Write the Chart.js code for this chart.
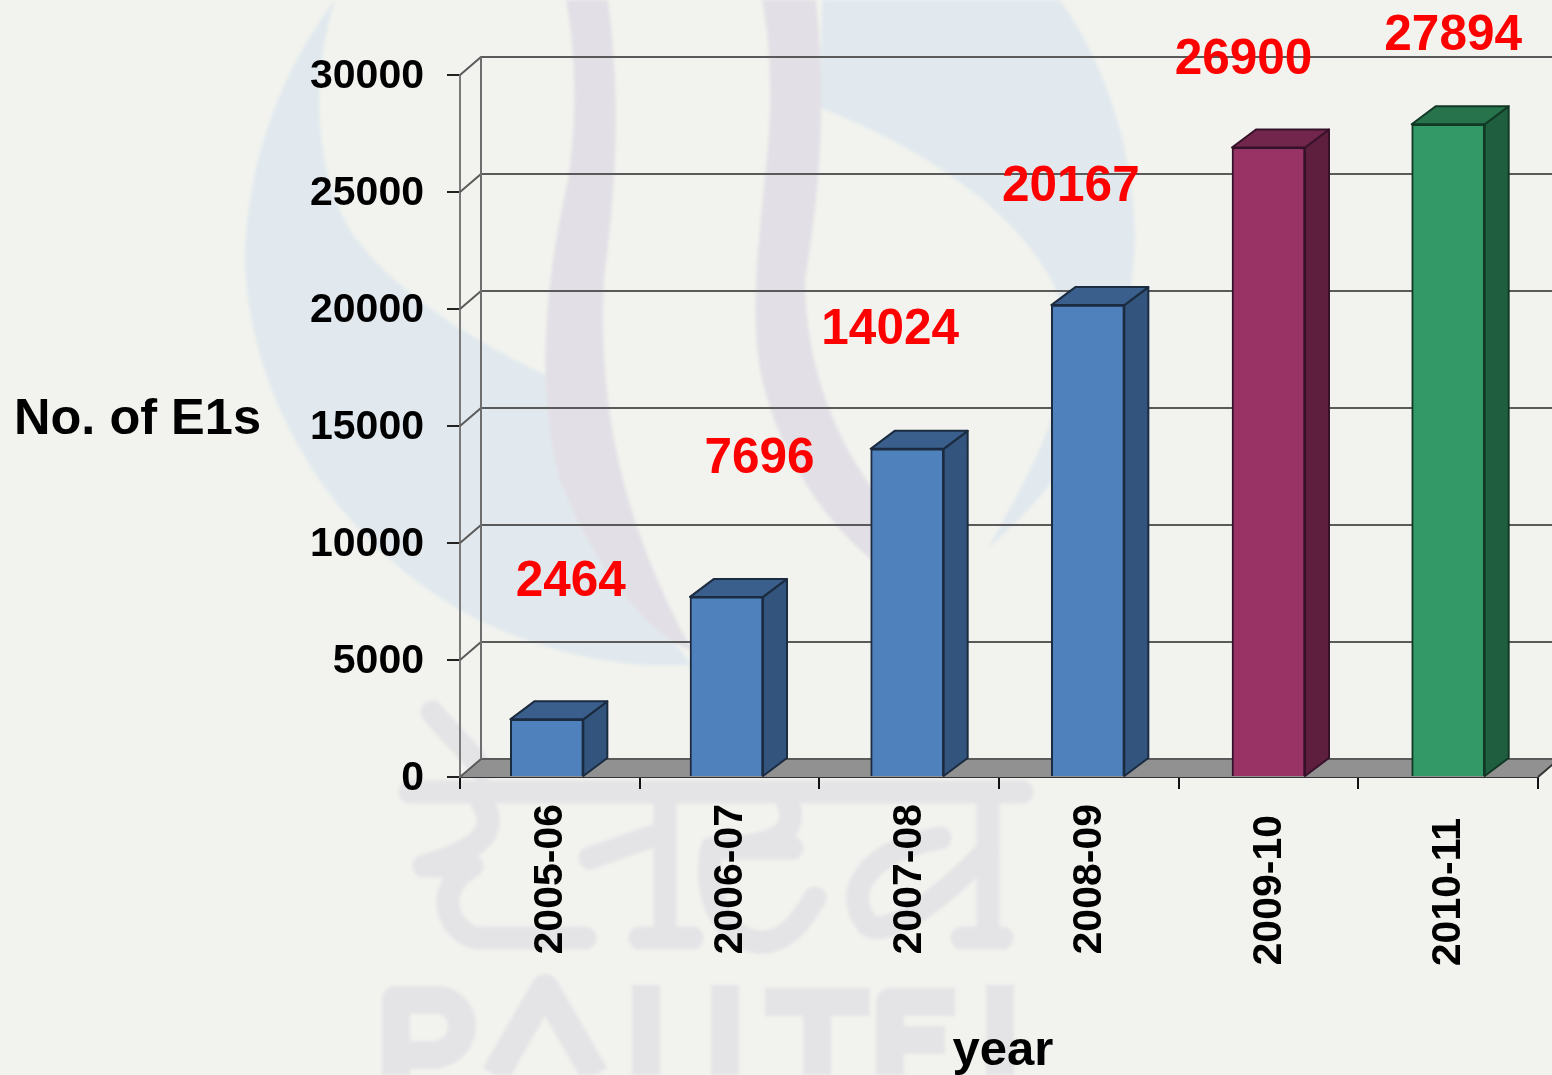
<!DOCTYPE html>
<html>
<head>
<meta charset="utf-8">
<script src="https://cdn.jsdelivr.net/npm/chart.js@4"></script>
<style>
html,body{margin:0;padding:0;background:#F2F3EE;overflow:hidden}
#wm{position:absolute;left:0;top:0;filter:blur(1.5px)}
#c{position:absolute;left:0;top:0}
</style>
</head>
<body>
<svg id="wm" width="1552" height="1075" viewBox="0 0 1552 1075" fill="none">
  <path fill="#E1E9EE" d="M335,0 C280,70 245,170 245,260 C248,400 340,560 500,630 C580,662 640,668 692,665 C640,600 570,480 548,376 C480,345 390,290 350,230 C315,170 310,80 335,0 Z"/>
  <path fill="#E1E9EE" d="M822,0 L1060,0 C1110,70 1135,160 1135,240 C1130,380 1070,480 988,548 C1030,470 1078,400 1060,300 C1030,220 930,150 820,108 Z"/>
  <path fill="#E2E0E6" d="M566,0 L608,0 C620,90 618,170 604,280 C598,400 620,520 692,650 C650,640 590,560 560,480 C535,390 545,280 568,180 C578,110 575,50 566,0 Z"/>
  <path fill="#E2E0E6" d="M762,0 L816,0 C826,90 822,180 805,280 C805,380 850,500 960,572 L920,590 C850,560 780,470 760,370 C745,280 772,170 770,90 C770,50 766,20 762,0 Z"/>
  <g stroke="#E4E4E7" stroke-width="23" stroke-linecap="round" stroke-linejoin="round">
    <path d="M432,712 C450,735 468,748 482,770"/>
    <path d="M410,792 L1022,792"/>
    <path d="M482,803 C500,830 480,850 424,866 L472,866 C430,890 450,935 478,938 L585,938"/>
    <path d="M665,803 L665,937 M640,938 L692,938 M590,858 L665,832"/>
    <path d="M712,848 L792,848 M788,803 C800,835 770,848 712,848 C700,900 730,945 765,942 C790,940 805,915 815,898"/>
    <path d="M940,838 C870,850 840,890 868,925 C890,940 950,890 988,850"/>
    <path d="M988,803 L988,937 M962,938 L1002,938"/>
  </g>
  <g stroke="#E4E4E7" stroke-width="28" stroke-linecap="butt" stroke-linejoin="round">
    <path d="M396,1075 L396,1000 L440,1000 C470,1005 470,1050 435,1055 L396,1055"/>
    <path d="M495,1075 L545,988 L595,1075"/>
    <path d="M646,985 L646,1075"/>
    <path d="M725,985 L725,1075"/>
    <path d="M765,1002 L870,1002 M817,1002 L817,1075"/>
    <path d="M890,1075 L890,1002 L955,1002 M890,1040 L945,1040"/>
    <path d="M1000,985 L1000,1075"/>
  </g>
</svg>
<canvas id="c" width="1552" height="1075"></canvas>
<script>
const categories = ['2005-06','2006-07','2007-08','2008-09','2009-10','2010-11'];
const e1Counts = [2464,7696,14024,20167,26900,27894];
const frontColors = ['#4F81BD','#4F81BD','#4F81BD','#4F81BD','#993366','#339966'];
const topColors = ['#3A5F8C','#3A5F8C','#3A5F8C','#3A5F8C','#72264C','#26734C'];
const sideColors = ['#32547D','#32547D','#32547D','#32547D','#5E1F3E','#1F5F3F'];
const edgeColors = ['#1B2B40','#1B2B40','#1B2B40','#1B2B40','#36122A','#123825'];
const yTicks = [0,5000,10000,15000,20000,25000,30000];
const yTitle = 'No. of E1s';
const xTitle = 'year';
const fontFamily = '"Liberation Sans", Arial, sans-serif';

const depthPlugin = {
  id:'depth',
  beforeDraw(chart,args,opts){
    const items = chart.scales.x.getLabelItems(chart.chartArea);
    if(!items._shifted){
      items.forEach((it,i)=>{it.options.translation[1]+=opts.tickDrop[i];});
      items._shifted=true;
    }
  },
  beforeDatasetsDraw(chart,args,opts){
    const {ctx, scales:{y}, chartArea:a} = chart;
    const wx=21, wy=18, dx=24, dy=18;
    const bars=chart.getDatasetMeta(0).data;
    if(!bars._shifted){
      bars.forEach((b,i)=>{b.x+=opts.barNudge[i];});
      bars._shifted=true;
    }
    ctx.save();
    ctx.fillStyle='#919191';
    ctx.beginPath();
    ctx.moveTo(a.left,a.bottom);ctx.lineTo(a.right,a.bottom);
    ctx.lineTo(a.right+wx,a.bottom-wy);ctx.lineTo(a.left+wx,a.bottom-wy);
    ctx.closePath();ctx.fill();
    ctx.strokeStyle='#5A5A5A';ctx.lineWidth=2;
    yTicks.forEach(v=>{
      const py=y.getPixelForValue(v);
      ctx.beginPath();
      ctx.moveTo(a.left,py);ctx.lineTo(a.left+wx,py-wy);
      ctx.lineTo(chart.width,py-wy);
      ctx.stroke();
    });
    ctx.beginPath();
    ctx.moveTo(a.left+wx,y.getPixelForValue(30000)-wy);
    ctx.lineTo(a.left+wx,a.bottom-wy);
    ctx.strokeStyle='#6E6E6E';ctx.stroke();
    ctx.beginPath();ctx.moveTo(a.right,a.bottom);ctx.lineTo(a.right+wx,a.bottom-wy);ctx.strokeStyle='#333';ctx.stroke();
    bars.forEach((b,i)=>{
      const l=b.x-b.width/2, r=b.x+b.width/2, t=b.y, bt=b.base;
      ctx.strokeStyle=edgeColors[i];ctx.lineWidth=2;ctx.lineJoin='round';
      ctx.fillStyle=sideColors[i];
      ctx.beginPath();ctx.moveTo(r,bt);ctx.lineTo(r+dx,bt-dy);ctx.lineTo(r+dx,t-dy);ctx.lineTo(r,t);ctx.closePath();ctx.fill();ctx.stroke();
      ctx.fillStyle=topColors[i];
      ctx.beginPath();ctx.moveTo(l,t);ctx.lineTo(l+dx,t-dy);ctx.lineTo(r+dx,t-dy);ctx.lineTo(r,t);ctx.closePath();ctx.fill();ctx.stroke();
    });
    ctx.restore();
  },
  afterDraw(chart,args,opts){
    const {ctx} = chart;
    ctx.save();
    ctx.textAlign='center';ctx.textBaseline='middle';
    ctx.fillStyle='#FF0000';ctx.font='bold 49.5px '+fontFamily;
    chart.getDatasetMeta(0).data.forEach((b,i)=>{
      const o=opts.labelShift[i];
      ctx.fillText(String(e1Counts[i]),b.x+o[0],b.y+o[1]);
    });
    ctx.fillStyle='#000';ctx.font='bold 50.5px '+fontFamily;
    ctx.fillText(yTitle,137.5,420);
    ctx.font='bold 49px '+fontFamily;
    ctx.fillText(xTitle,1003,1051);
    ctx.restore();
  }
};

new Chart(document.getElementById('c'),{
  type:'bar',
  data:{labels:categories,datasets:[{
    data:e1Counts,
    backgroundColor:frontColors,
    borderColor:edgeColors,
    borderWidth:2,
    barThickness:73
  }]},
  plugins:[depthPlugin],
  options:{
    responsive:false,
    animation:false,
    layout:{padding:{top:75,right:14,left:0,bottom:0}},
    plugins:{
      legend:{display:false},
      tooltip:{enabled:false},
      depth:{
        barNudge:[-3,-3,-2,-1,0,0],
        tickDrop:[0,0,0,0,11,14],
        labelShift:[[24,-137],[33,-138],[-17,-118],[-17,-118],[-25,-87],[5,-88]]
      }
    },
    scales:{
      x:{
        offset:true,
        afterFit(s){s.height=298;},
        grid:{display:true,drawOnChartArea:false,drawTicks:true,tickLength:12,color:'#111',lineWidth:2,offset:true},
        border:{display:true,color:'#333',width:2},
        ticks:{
          color:'#000',maxRotation:90,minRotation:90,padding:15,autoSkip:false,labelOffset:1,
          font:{family:fontFamily,weight:'bold',size:41}
        }
      },
      y:{
        min:0,max:30000,
        afterFit(s){s.width=460;},
        afterBuildTicks(s){s.ticks=yTicks.map(v=>({value:v}));},
        grid:{display:true,drawOnChartArea:false,drawTicks:true,tickLength:13,color:'#222',lineWidth:2},
        border:{display:true,color:'#7A7A7A',width:2},
        ticks:{color:'#000',padding:23,labelOffset:2,font:{family:fontFamily,weight:'bold',size:41},callback:v=>String(v)}
      }
    }
  }
});
</script>
</body>
</html>
